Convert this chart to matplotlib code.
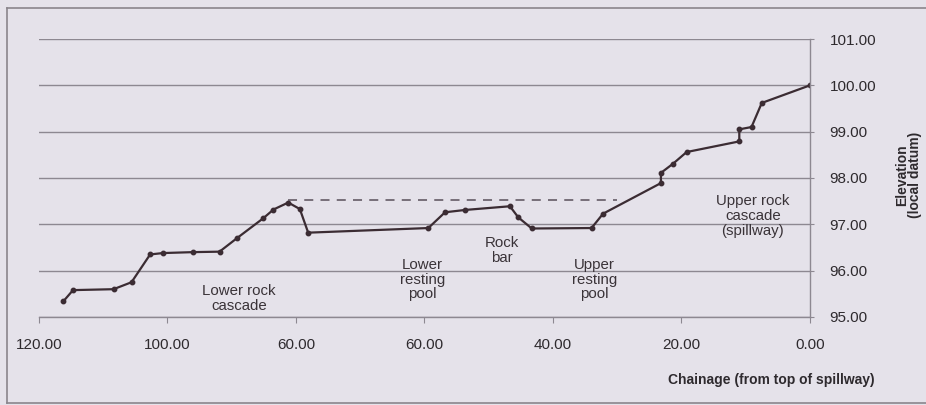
#!/usr/bin/env python3

'''
Long section of the fishway: elevation against chainage from top of spillway.
'''

import matplotlib.pyplot as plt
from matplotlib.lines import Line2D

plt.rcParams['font.family'] = ['Liberation Sans', 'DejaVu Sans']

# surveyed bed profile
chainage = [116.2, 114.7, 108.4, 105.6, 102.7, 100.7, 96.0, 91.9, 89.2,
            85.1, 83.5, 81.2, 79.4, 78.1, 59.4, 56.8, 53.7, 46.7, 45.4,
            43.3, 34.0, 32.2, 23.2, 23.2, 21.3, 19.2, 11.0, 11.0, 9.1,
            7.5, 0.0]
elevation = [95.34, 95.58, 95.60, 95.75, 96.35, 96.38, 96.40, 96.41,
              96.70, 97.13, 97.32, 97.47, 97.33, 96.82, 96.92, 97.26,
              97.31, 97.39, 97.15, 96.91, 96.92, 97.23, 97.89, 98.11,
              98.31, 98.56, 98.79, 99.05, 99.10, 99.62, 100.00]

# dashed reference level
level_x = [81.2, 30.0]
level_y = [97.52, 97.52]

x_ticks = [120, 100, 80, 60, 40, 20, 0]
x_ticklabels = ['120.00', '100.00', '60.00', '60.00', '40.00', '20.00',
                '0.00']
y_ticks = [95, 96, 97, 98, 99, 100, 101]

labels = ['Lower rock\ncascade', 'Lower\nresting\npool', 'Rock\nbar',
          'Upper\nresting\npool', 'Upper rock\ncascade\n(spillway)']
label_x = [88.9, 60.3, 48.0, 33.5, 8.9]
label_y = [95.40, 95.80, 96.44, 95.80, 97.18]

bg = '#e5e2ea'
ink = '#3b2c33'
grid = '#8d8891'

fig = plt.figure(figsize=(9.26, 4.05), dpi=100)
fig.patch.set_facecolor(bg)
ax = fig.add_axes([0.0421, 0.2173, 0.8326, 0.6864])
ax.set_facecolor(bg)

ax.plot(level_x, level_y, color='#6e6570', lw=1.3, ls=(0, (5, 4)))
ax.plot(chainage, elevation, color=ink, lw=1.6, marker='o', ms=3.2,
        mfc=ink, mec=ink)

for txt, x, y in zip(labels, label_x, label_y):
    ax.text(x, y, txt, ha='center', va='center', fontsize=10.8,
            color='#3a3338', linespacing=1.05)

ax.set_xlim(120, 0)
ax.set_ylim(95, 101)
ax.set_xticks(x_ticks)
ax.set_xticklabels(x_ticklabels)
ax.set_yticks(y_ticks)
ax.yaxis.set_major_formatter(plt.FuncFormatter(lambda v, p: f'{v:.2f}'))
ax.yaxis.tick_right()
ax.yaxis.set_label_position('right')
ax.grid(axis='y', color=grid, lw=1.0)
ax.set_axisbelow(True)

for side in ['top', 'left']:
    ax.spines[side].set_visible(False)
for side in ['right', 'bottom']:
    ax.spines[side].set_color(grid)
    ax.spines[side].set_linewidth(1.0)

ax.tick_params(axis='x', length=4, color=grid, pad=11, labelsize=11,
               labelcolor='#2e2a2e')
ax.tick_params(axis='y', length=3, color=grid, pad=11, labelsize=11,
               labelcolor='#2e2a2e')

ax.set_xlabel('Chainage (from top of spillway)', fontsize=10, weight='bold',
              color='#2e2a2e')
ax.xaxis.set_label_coords(0.95, -0.20)
ax.set_ylabel('Elevation\n(local datum)', fontsize=10, weight='bold',
              color='#2e2a2e', linespacing=0.95)
ax.yaxis.set_label_coords(1.11, 0.51)

# outer chart frame
fig.add_artist(Line2D([0.0076, 0.0076], [0.005, 0.98], color='#8a858c',
                      lw=1.2, transform=fig.transFigure))
fig.add_artist(Line2D([0.0076, 1.0], [0.98, 0.98], color='#8a858c',
                      lw=1.2, transform=fig.transFigure))
fig.add_artist(Line2D([0.0076, 1.0], [0.005, 0.005], color='#8a858c',
                      lw=1.2, transform=fig.transFigure))

fig.savefig('out.png', dpi=100, facecolor=bg)
